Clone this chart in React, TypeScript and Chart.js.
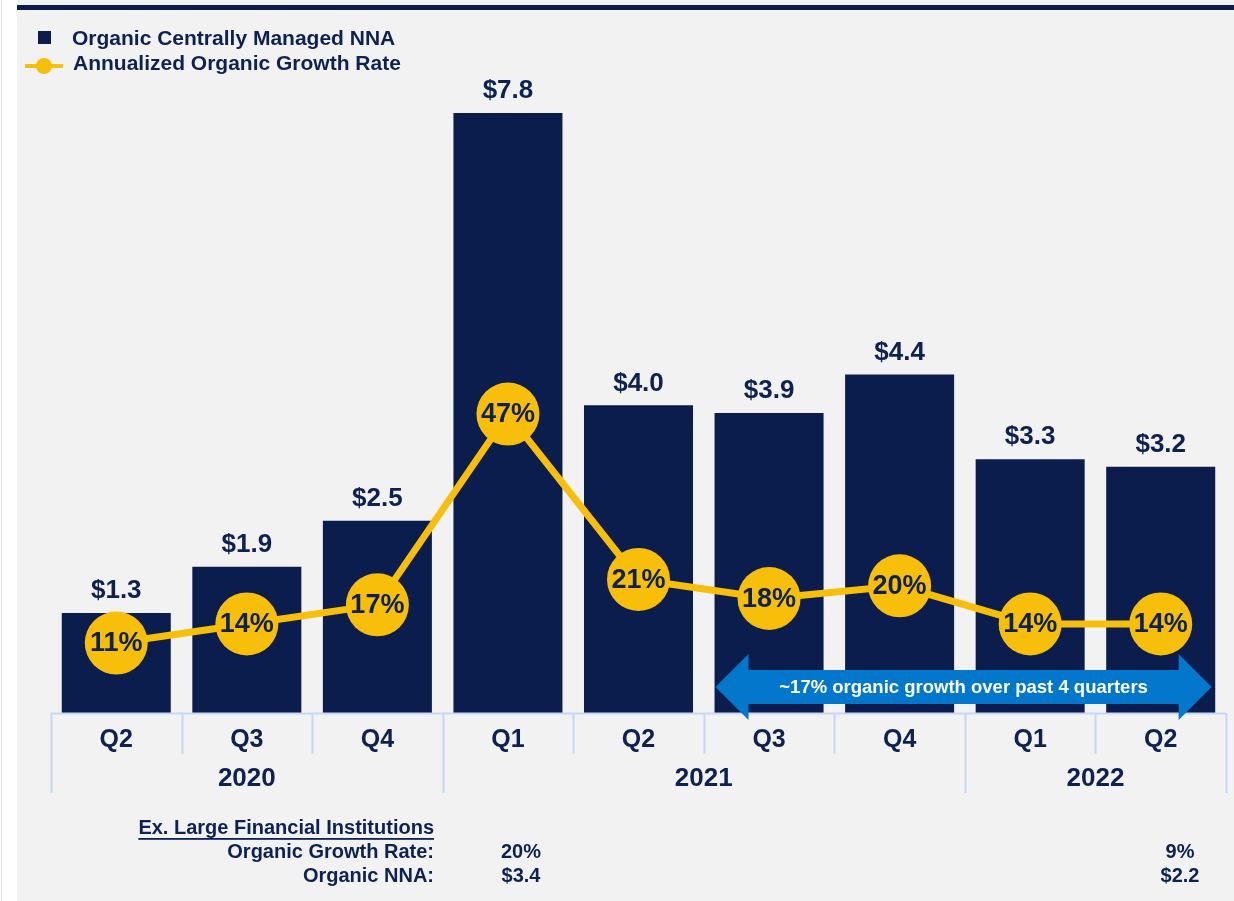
import { useEffect, useRef } from 'react';
import { Chart, registerables } from 'chart.js';

Chart.register(...registerables);

const quarters = ['Q2', 'Q3', 'Q4', 'Q1', 'Q2', 'Q3', 'Q4', 'Q1', 'Q2'];
const years = ['2020', '2021', '2022'];
const quartersPerYear = [3, 4, 2];
const nnaValues = [1.3, 1.9, 2.5, 7.8, 4.0, 3.9, 4.4, 3.3, 3.2];
const nnaLabels = ['$1.3', '$1.9', '$2.5', '$7.8', '$4.0', '$3.9', '$4.4', '$3.3', '$3.2'];
const growthRates = [11, 14, 17, 47, 21, 18, 20, 14, 14];
const seriesNames = ['Organic Centrally Managed NNA', 'Annualized Organic Growth Rate'];
const arrowText = '~17% organic growth over past 4 quarters';
const arrowFromIndex = 5;
const arrowToIndex = 8;
const exTitle = 'Ex. Large Financial Institutions';
const exRowLabels = ['Organic Growth Rate:', 'Organic NNA:'];
const exFirstValues = ['20%', '$3.4'];
const exLastValues = ['9%', '$2.2'];

const NAVY = '#0B1D4D';
const TEXT = '#0D2152';
const YELLOW = '#F7BE0A';
const BLUE = '#0277CC';
const BG = '#F2F2F2';
const AXIS = '#C6D7F5';
const FONT = '"Liberation Sans", Arial, Helvetica, sans-serif';

const decorPlugin = {
  id: 'decor',
  beforeDraw(chart: any) {
    const { ctx, width, height } = chart;
    ctx.save();
    ctx.fillStyle = '#FFFFFF';
    ctx.fillRect(0, 0, width, height);
    ctx.fillStyle = '#E4E4E4';
    ctx.fillRect(1, 0, 1, height);
    ctx.fillStyle = BG;
    ctx.fillRect(17, 0, width - 17, height);
    ctx.fillStyle = NAVY;
    ctx.fillRect(17, 5, width - 17, 5);
    ctx.restore();
  },
  afterDatasetsDraw(chart: any) {
    const { ctx, chartArea } = chart;
    const xs = chart.scales.x;
    const barMeta = chart.getDatasetMeta(1);
    const lineMeta = chart.getDatasetMeta(0);
    ctx.save();
    // bar value labels
    ctx.fillStyle = TEXT;
    ctx.font = `bold 26px ${FONT}`;
    ctx.textAlign = 'center';
    ctx.textBaseline = 'middle';
    barMeta.data.forEach((bar: any, i: number) => {
      ctx.fillText(nnaLabels[i], bar.x, bar.y - 22);
    });
    // growth labels inside circles
    ctx.font = `bold 27px ${FONT}`;
    lineMeta.data.forEach((pt: any, i: number) => {
      ctx.fillText(growthRates[i] + '%', pt.x, pt.y + 1);
    });

    // axis
    const catW = xs.getPixelForValue(1) - xs.getPixelForValue(0);
    const base = chartArea.bottom;
    ctx.strokeStyle = AXIS;
    ctx.lineWidth = 2;
    ctx.beginPath();
    ctx.moveTo(chartArea.left, base + 0.5);
    ctx.lineTo(chartArea.right, base + 0.5);
    ctx.stroke();
    const yearBounds: number[] = [0];
    quartersPerYear.forEach((c, i) => yearBounds.push(yearBounds[i] + c));
    for (let i = 0; i <= quarters.length; i++) {
      const bx = Math.round(xs.getPixelForValue(i) - catW / 2);
      const isYear = yearBounds.includes(i);
      ctx.beginPath();
      ctx.moveTo(bx + 0.5, base);
      ctx.lineTo(bx + 0.5, base + (isYear ? 80 : 41));
      ctx.stroke();
    }
    ctx.fillStyle = TEXT;
    ctx.font = `bold 25px ${FONT}`;
    quarters.forEach((q, i) => {
      ctx.fillText(q, xs.getPixelForValue(i), base + 27);
    });
    ctx.font = `bold 26px ${FONT}`;
    years.forEach((y, i) => {
      const s = yearBounds[i];
      const e = yearBounds[i + 1];
      const cx = (xs.getPixelForValue(s) + xs.getPixelForValue(e - 1)) / 2;
      ctx.fillText(y, cx, base + 66);
    });

    // arrow
    const lt = xs.getPixelForValue(arrowFromIndex) - catW * 0.41;
    const rt = xs.getPixelForValue(arrowToIndex) + catW * 0.39;
    const cy = base - 26;
    const sh = 17;
    const hh = 33;
    const hl = 33;
    ctx.fillStyle = BLUE;
    ctx.beginPath();
    ctx.moveTo(lt, cy);
    ctx.lineTo(lt + hl, cy - hh);
    ctx.lineTo(lt + hl, cy - sh);
    ctx.lineTo(rt - hl, cy - sh);
    ctx.lineTo(rt - hl, cy - hh);
    ctx.lineTo(rt, cy);
    ctx.lineTo(rt - hl, cy + hh);
    ctx.lineTo(rt - hl, cy + sh);
    ctx.lineTo(lt + hl, cy + sh);
    ctx.lineTo(lt + hl, cy + hh);
    ctx.closePath();
    ctx.fill();
    ctx.fillStyle = '#FFFFFF';
    ctx.font = `bold 18.5px ${FONT}`;
    ctx.fillText(arrowText, (lt + rt) / 2, cy + 1);

    // legend
    ctx.fillStyle = NAVY;
    ctx.fillRect(38, 31, 13, 13);
    ctx.strokeStyle = YELLOW;
    ctx.lineWidth = 4;
    ctx.beginPath();
    ctx.moveTo(25, 66);
    ctx.lineTo(63, 66);
    ctx.stroke();
    ctx.fillStyle = YELLOW;
    ctx.beginPath();
    ctx.arc(44, 66, 8, 0, Math.PI * 2);
    ctx.fill();
    ctx.fillStyle = TEXT;
    ctx.font = `bold 21px ${FONT}`;
    ctx.textAlign = 'left';
    ctx.fillText(seriesNames[0], 72, 39);
    ctx.fillText(seriesNames[1], 73, 64);

    // bottom table
    ctx.font = `bold 20px ${FONT}`;
    ctx.textAlign = 'right';
    ctx.fillText(exTitle, 434, 828);
    const tw = ctx.measureText(exTitle).width;
    ctx.fillRect(434 - tw, 838, tw, 1.8);
    exRowLabels.forEach((l, i) => ctx.fillText(l, 434, 852 + i * 24));
    ctx.textAlign = 'center';
    exFirstValues.forEach((v, i) => ctx.fillText(v, 521, 852 + i * 24));
    exLastValues.forEach((v, i) => ctx.fillText(v, 1180, 852 + i * 24));
    ctx.restore();
  },
};

export default function App() {
  const ref = useRef<HTMLCanvasElement | null>(null);
  useEffect(() => {
    if (!ref.current) return;
    const chart = new Chart(ref.current, {
      type: 'bar',
      data: {
        labels: quarters,
        datasets: [
          {
            type: 'line',
            label: seriesNames[1],
            data: growthRates,
            yAxisID: 'y1',
            borderColor: YELLOW,
            borderWidth: 7,
            pointRadius: 31.5,
            pointHoverRadius: 31.5,
            pointBackgroundColor: YELLOW,
            pointBorderWidth: 0,
            tension: 0,
            order: 0,
            clip: false,
          } as any,
          {
            type: 'bar',
            label: seriesNames[0],
            data: nnaValues,
            yAxisID: 'y',
            backgroundColor: NAVY,
            barPercentage: 0.835,
            categoryPercentage: 1,
            order: 1,
          },
        ],
      },
      options: {
        responsive: false,
        animation: false,
        devicePixelRatio: 1,
        layout: { autoPadding: false, padding: { left: 51, right: 8, top: 40, bottom: 188 } },
        scales: {
          x: { display: false, offset: true },
          y: { display: false, min: 0, max: 8.75 },
          y1: { display: false, min: 0, max: 105.8 },
        },
        plugins: {
          legend: { display: false },
          tooltip: { enabled: false },
        },
      } as any,
      plugins: [decorPlugin],
    });
    return () => chart.destroy();
  }, []);
  return (
    <div style={{ position: 'absolute', left: 0, top: 0, width: 1234, height: 901 }}>
      <canvas ref={ref} width={1234} height={901} style={{ width: 1234, height: 901, display: 'block' }} />
    </div>
  );
}
